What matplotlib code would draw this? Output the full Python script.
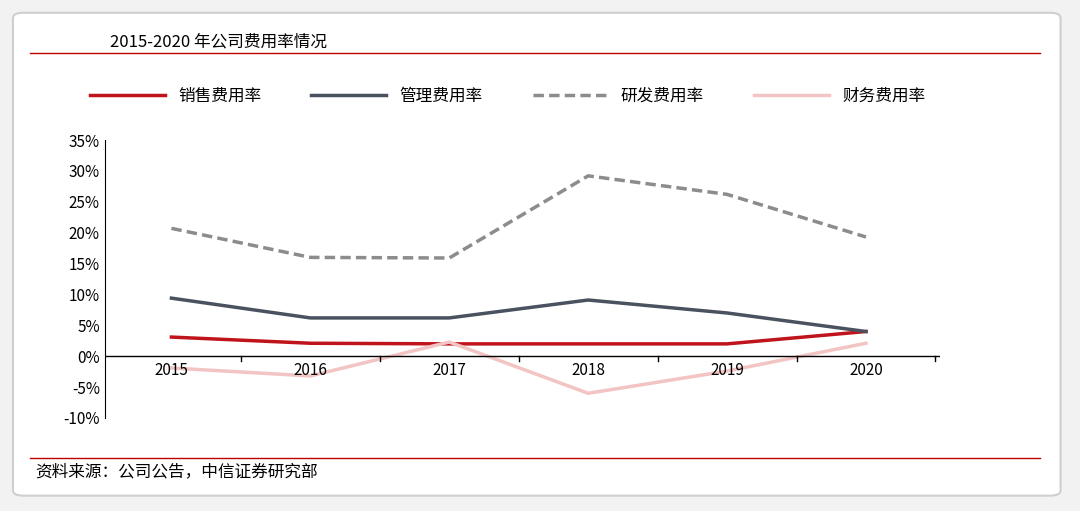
import numpy as np
import matplotlib.pyplot as plt
from matplotlib.patches import FancyBboxPatch

plt.rcParams['font.family'] = ['Noto Sans CJK SC', 'DejaVu Sans']

# Data (percent)
years = ['2015', '2016', '2017', '2018', '2019', '2020']
sales = [3.1, 2.1, 2.0, 2.0, 2.0, 4.0]
admin = [9.4, 6.2, 6.2, 9.1, 7.0, 4.0]
rnd = [20.7, 16.0, 15.9, 29.2, 26.2, 19.3]
finance = [-1.9, -3.2, 2.3, -6.0, -2.4, 2.1]
yticks = [-10, -5, 0, 5, 10, 15, 20, 25, 30, 35]

fig = plt.figure(figsize=(10.8, 5.11), dpi=100)
fig.patch.set_facecolor('#f2f2f2')
# white card with rounded border, kept behind the axes
card = FancyBboxPatch((0.012, 0.03), 0.97, 0.945, boxstyle='round,pad=0,rounding_size=0.01',
                      transform=fig.transFigure, facecolor='white', edgecolor='#cfcfcf',
                      lw=1.5, zorder=-5)
fig.patches.append(card)

fig.text(0.102, 0.918, '2015-2020 年公司费用率情况', fontsize=12, va='center')
fig.add_artist(plt.Line2D([0.028, 0.963], [0.896, 0.896], color='#c00000', lw=1))
fig.add_artist(plt.Line2D([0.028, 0.963], [0.104, 0.104], color='#c00000', lw=1))
fig.text(0.033, 0.076, '资料来源：公司公告，中信证券研究部', fontsize=12, va='center')

ax = fig.add_axes([0.097, 0.182, 0.773, 0.544])
ax.set_zorder(2)
ax.patch.set_alpha(0)
x = np.arange(len(years))
ax.plot(x, sales, color='#c0141c', lw=2.5, label='销售费用率')
ax.plot(x, admin, color='#4a5260', lw=2.5, label='管理费用率')
ax.plot(x, rnd, color='#8c8c8c', lw=2.5, ls=(0, (3, 1.5)), label='研发费用率')
ax.plot(x, finance, color='#f2c4c4', lw=2.5, label='财务费用率')

ax.set_xlim(-0.48, 5.53)
ax.set_ylim(-10, 35)
ax.set_yticks(yticks)
ax.set_yticklabels([f'{v}%' for v in yticks], fontsize=11)
ax.set_xticks([])
for i, yr in enumerate(years):
    ax.text(i, -0.9, yr, ha='center', va='top', fontsize=11)
ax.axhline(0, color='black', lw=1)
for b in np.arange(-0.5, 5.6, 1.0):
    ax.plot([b, b], [0, -0.8], color='black', lw=1)
for s in ['top', 'right', 'bottom']:
    ax.spines[s].set_visible(False)
ax.tick_params(axis='y', length=0)

fig.legend(loc='center', bbox_to_anchor=(0.47, 0.812), ncol=4, frameon=False,
           fontsize=12, handlelength=4.5, columnspacing=3)

fig.savefig('out.png', dpi=100, facecolor=fig.get_facecolor())
